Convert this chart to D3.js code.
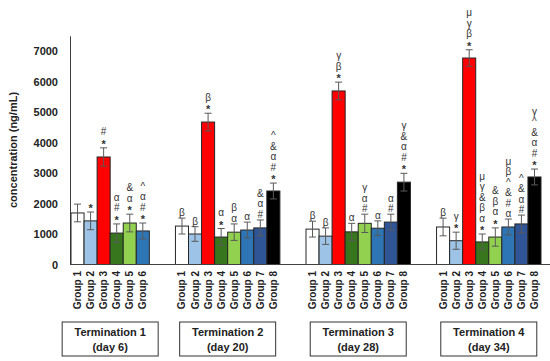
<!DOCTYPE html>
<html>
<head>
<meta charset="utf-8">
<script src="https://cdn.jsdelivr.net/npm/d3@7"></script>
<style>
  body { margin: 0; background: #fff; }
  text { font-family: "Liberation Sans", Arial, sans-serif; }
</style>
</head>
<body>
<div id="app"></div>
<script>
// data
const terminations = ['Termination 1', 'Termination 2', 'Termination 3', 'Termination 4'];
const days = ['(day 6)', '(day 20)', '(day 28)', '(day 34)'];
const groupNames = ['Group 1', 'Group 2', 'Group 3', 'Group 4', 'Group 5', 'Group 6', 'Group 7', 'Group 8'];
const groupColors = ['#ffffff', '#9dc3e6', '#ff0000', '#38761d', '#92d050', '#2e75b6', '#2f5597', '#000000'];

const means = [
  [1690, 1430, 3525, 1030, 1360, 1100],
  [1260, 1000, 4670, 900, 1060, 1130, 1200, 2410],
  [1160, 930, 5690, 1070, 1350, 1190, 1390, 2700],
  [1230, 780, 6770, 740, 900, 1230, 1330, 2870]
];
const errors = [
  [290, 290, 300, 300, 290, 260],
  [260, 240, 290, 280, 270, 260, 260, 260],
  [260, 270, 290, 280, 300, 240, 260, 290],
  [290, 280, 270, 260, 300, 260, 290, 260]
];
// significance marks, bottom to top
const marks = [
  [[], ['*'], ['*', '#'], ['*', '#', 'α'], ['*', 'α', '&'], ['*', '#', 'α', '^']],
  [['β'], ['β'], ['*', 'β'], ['*', 'α'], ['α', 'β'], ['α'], ['#', 'α', '&'], ['*', '#', 'α', '&', '^']],
  [['β'], ['β'], ['*', 'β', 'γ'], ['α'], ['#', 'α', 'γ'], ['α'], ['#', 'α'], ['*', '#', 'α', '&', 'γ']],
  [['β'], ['*', 'γ'], ['*', 'β', 'γ', 'μ'], ['*', 'α', 'β', '&', 'γ', 'μ'], ['*', 'α', 'β', '&'],
   ['α', '#', '&', '^', 'β', 'μ'], ['#', 'α', '&', '^'], ['*', '#', 'α', '&', '^', 'γ']]
];
const yTicks = [0, 1000, 2000, 3000, 4000, 5000, 6000, 7000];

const svg = d3.select('#app').append('svg')
  .attr('width', 550)
  .attr('height', 361);

// flatten into bars, with two empty slots between terminations
const bars = [];
const slots = [];
means.forEach((row, t) => {
  if (t > 0) slots.push(`gap${t}a`, `gap${t}b`);
  row.forEach((v, i) => {
    const key = `${t}|${i}`;
    slots.push(key);
    bars.push({ key, t, i, value: v, err: errors[t][i], marks: marks[t][i] });
  });
});

const x = d3.scaleBand()
  .domain(slots)
  .range([71, 541])
  .padding(0);

const y = d3.scaleLinear()
  .domain([0, 7500])
  .range([264.5, 35.75]);

const bw = x.bandwidth();

// y axis
const yAxis = svg.append('g')
  .attr('transform', 'translate(70,0)')
  .call(d3.axisLeft(y).tickValues(yTicks).tickFormat(d3.format('d'))
    .tickSize(0).tickSizeOuter(0).tickPadding(12));
yAxis.select('.domain').attr('stroke', '#404040');
yAxis.selectAll('text')
  .attr('font-size', 11)
  .attr('font-weight', 'bold')
  .attr('fill', '#222');

svg.append('text')
  .attr('transform', 'translate(13,150) rotate(-90)')
  .attr('text-anchor', 'middle')
  .attr('dy', '0.35em')
  .attr('font-size', 11)
  .attr('font-weight', 'bold')
  .attr('fill', '#222')
  .text('concentration (ng/mL)');

// bars
svg.append('g').selectAll('rect')
  .data(bars)
  .enter().append('rect')
    .attr('x', d => x(d.key))
    .attr('y', d => y(d.value))
    .attr('width', bw)
    .attr('height', d => y(0) - y(d.value))
    .attr('fill', d => groupColors[d.i])
    .attr('stroke', '#262626')
    .attr('stroke-width', 1);

// error bars
const eb = svg.append('g').selectAll('g')
  .data(bars)
  .enter().append('g')
    .attr('stroke', '#595959')
    .attr('stroke-width', 1);
eb.append('line')
  .attr('x1', d => x(d.key) + bw / 2)
  .attr('x2', d => x(d.key) + bw / 2)
  .attr('y1', d => y(d.value - d.err))
  .attr('y2', d => y(d.value + d.err));
eb.append('line')
  .attr('x1', d => x(d.key) + bw / 2 - 3.5)
  .attr('x2', d => x(d.key) + bw / 2 + 3.5)
  .attr('y1', d => y(d.value + d.err))
  .attr('y2', d => y(d.value + d.err));
eb.append('line')
  .attr('x1', d => x(d.key) + bw / 2 - 3.5)
  .attr('x2', d => x(d.key) + bw / 2 + 3.5)
  .attr('y1', d => y(d.value - d.err))
  .attr('y2', d => y(d.value - d.err));

// significance symbols
svg.append('g').selectAll('g')
  .data(bars)
  .enter().append('g')
  .selectAll('text')
  .data(d => d.marks.map((s, k) => ({ s, k, d })))
  .enter().append('text')
    .attr('x', m => x(m.d.key) + bw / 2)
    .attr('y', m => y(m.d.value + m.d.err) - 2 - m.k * 10.5 + (m.s === '*' ? 2 : 0))
    .attr('text-anchor', 'middle')
    .attr('font-size', m => m.s === '*' ? 11 : 10)
    .attr('font-weight', m => m.s === '*' ? 'bold' : 'normal')
    .attr('fill', '#333')
    .text(m => m.s);

// x axis line
svg.append('line')
  .attr('x1', 70).attr('x2', 550)
  .attr('y1', y(0)).attr('y2', y(0))
  .attr('stroke', '#404040');

// group labels
svg.append('g').selectAll('text')
  .data(bars)
  .enter().append('text')
    .attr('transform', d => `translate(${x(d.key) + bw / 2},271) rotate(-90)`)
    .attr('text-anchor', 'end')
    .attr('dy', '0.35em')
    .attr('font-size', 10)
    .attr('font-weight', 'bold')
    .attr('fill', '#222')
    .text(d => groupNames[d.i]);

// termination boxes
const boxes = svg.append('g').selectAll('g')
  .data(terminations)
  .enter().append('g')
    .attr('transform', (d, t) => {
      const first = x(`${t}|0`);
      const last = x(`${t}|${means[t].length - 1}`) + bw;
      return `translate(${(first + last) / 2},0)`;
    });
boxes.append('rect')
  .attr('x', -48)
  .attr('y', 322)
  .attr('width', 96)
  .attr('height', 34)
  .attr('fill', '#fff')
  .attr('stroke', '#333');
boxes.append('text')
  .attr('y', 336)
  .attr('text-anchor', 'middle')
  .attr('font-size', 11)
  .attr('font-weight', 'bold')
  .attr('fill', '#222')
  .text(d => d);
boxes.append('text')
  .attr('y', 351)
  .attr('text-anchor', 'middle')
  .attr('font-size', 11)
  .attr('font-weight', 'bold')
  .attr('fill', '#222')
  .text((d, t) => days[t]);
</script>
</body>
</html>
